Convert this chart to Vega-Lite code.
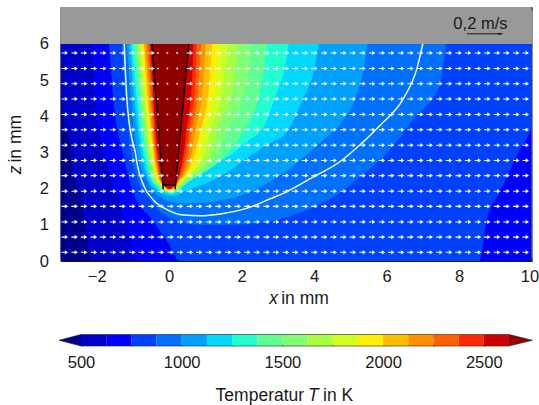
{"$schema":"https://vega.github.io/schema/vega-lite/v6.json","background":"white","padding":{"left":6.5,"top":6,"right":2,"bottom":2},"bounds":"flush","spacing":73.5,"config":{"view":{"stroke":null},"font":"Liberation Sans","text":{"font":"Liberation Sans"},"axis":{"labelFont":"Liberation Sans","labelFontSize":16.5,"labelColor":"#1a1a1a","domainColor":"#1a1a1a","tickColor":"#1a1a1a","grid":false,"title":null,"domainWidth":1,"tickWidth":1,"labelFlush":false,"labelOverlap":false}},"vconcat":[{"width":471,"height":254,"encoding":{"x":{"field":"x","type":"quantitative","scale":{"domain":[-3,10],"nice":false,"zero":false},"axis":null},"y":{"field":"z","type":"quantitative","scale":{"domain":[0,7.02],"nice":false,"zero":false},"axis":null}},"resolve":{"axis":{"x":"independent","y":"independent"}},"layer":[{"data":{"name":"bands"},"mark":{"type":"area","clip":true,"interpolate":"monotone"},"encoding":{"y":{"field":"z","type":"quantitative","stack":null,"axis":{"values":[0,1,2,3,4,5,6],"tickSize":-3,"labelPadding":15,"format":"d"}},"x":{"field":"x","type":"quantitative","axis":{"values":[-2,0,2,4,6,8,10],"tickSize":-3,"labelPadding":10,"format":"d","labelOffset":{"condition":{"test":"datum.value==10","value":-2},"value":0}}},"y2":{"datum":6},"detail":{"field":"T"},"color":{"field":"T","type":"ordinal","legend":null,"scale":{"domain":[375,500,625,750,875,1000,1125,1250,1375,1500,1625,1750,1875,2000,2125,2250,2375,2500,2625],"range":["#00008f","#0000c8","#0000ff","#0040ff","#0070ff","#00a0ff","#00d8ff","#20ffd0","#5fff90","#80ff70","#a8ff40","#d0ff20","#ffef00","#ffbf00","#ff8f00","#ff6000","#ff2800","#d00000","#8f0000"]}}}},{"data":{"values":[{"x":-3,"z":6},{"x":10,"z":6}]},"mark":{"type":"area","color":"#999999"},"encoding":{"y":{"field":"z","type":"quantitative","stack":null,"axis":{"orient":"right","values":[0,1,2,3,4,5,6],"tickSize":-3,"labels":false}},"x":{"field":"x","type":"quantitative","axis":{"orient":"top","values":[-2,0,2,4,6,8,10],"tickSize":-3,"labels":false}},"y2":{"datum":7.02}}},{"data":{"name":"melt"},"mark":{"type":"line","color":"white","strokeWidth":1.4,"interpolate":"monotone"}},{"data":{"name":"hole"},"mark":{"type":"line","color":"black","strokeWidth":1.4},"encoding":{"detail":{"field":"s"}}},{"data":{"name":"arrows"},"mark":{"type":"point","shape":"M-1,-0.16L0,-0.16L0,-0.65L1,0L0,0.65L0,0.16L-1,0.16Z","filled":true,"color":"white","size":42,"opacity":1,"strokeWidth":0}},{"data":{"name":"dots"},"mark":{"type":"point","shape":"circle","filled":true,"color":"white","size":4,"opacity":0.85,"strokeWidth":0}},{"data":{"values":[{"x":8.22,"x2":9.2,"z":6.28}]},"mark":{"type":"rule","color":"#1a1a1a","strokeWidth":1.2},"encoding":{"x2":{"field":"x2"}}},{"data":{"values":[{"x":9.15,"z":6.28}]},"mark":{"type":"point","shape":"M-1,-0.5L1,0L-1,0.5Z","filled":true,"color":"#1a1a1a","size":20,"opacity":1,"strokeWidth":0}},{"data":{"values":[{"x":8.59,"z":6.54,"t":"0,2 m/s"}]},"mark":{"type":"text","fontSize":16.5,"color":"#1a1a1a"},"encoding":{"text":{"field":"t"}}},{"data":{"values":[{"x":2.76,"z":-1.06,"t":"x"}]},"mark":{"type":"text","fontSize":17.5,"align":"left","fontStyle":"italic","color":"#1a1a1a"},"encoding":{"text":{"field":"t"}}},{"data":{"values":[{"x":3.09,"z":-1.06,"t":"in mm"}]},"mark":{"type":"text","fontSize":17.5,"align":"left","color":"#1a1a1a"},"encoding":{"text":{"field":"t"}}},{"data":{"values":[{"x":-4.23,"z":2.4,"t":"z"}]},"mark":{"type":"text","fontSize":17.5,"align":"left","angle":270,"fontStyle":"italic","color":"#1a1a1a"},"encoding":{"text":{"field":"t"}}},{"data":{"values":[{"x":-4.23,"z":2.72,"t":"in mm"}]},"mark":{"type":"text","fontSize":17.5,"align":"left","angle":270,"color":"#1a1a1a"},"encoding":{"text":{"field":"t"}}}]},{"width":471,"height":11.5,"encoding":{"x":{"field":"T","type":"quantitative","scale":{"domain":[398.2,2737],"nice":false,"zero":false},"axis":null},"y":{"field":"v","type":"quantitative","scale":{"domain":[0,1],"nice":false},"axis":null}},"resolve":{"axis":{"x":"independent"}},"layer":[{"data":{"values":[{"T":500,"T1":625,"T0":500,"v":0,"h":1},{"T":625,"T1":750,"T0":625,"v":0,"h":1},{"T":750,"T1":875,"T0":750,"v":0,"h":1},{"T":875,"T1":1000,"T0":875,"v":0,"h":1},{"T":1000,"T1":1125,"T0":1000,"v":0,"h":1},{"T":1125,"T1":1250,"T0":1125,"v":0,"h":1},{"T":1250,"T1":1375,"T0":1250,"v":0,"h":1},{"T":1375,"T1":1500,"T0":1375,"v":0,"h":1},{"T":1500,"T1":1625,"T0":1500,"v":0,"h":1},{"T":1625,"T1":1750,"T0":1625,"v":0,"h":1},{"T":1750,"T1":1875,"T0":1750,"v":0,"h":1},{"T":1875,"T1":2000,"T0":1875,"v":0,"h":1},{"T":2000,"T1":2125,"T0":2000,"v":0,"h":1},{"T":2125,"T1":2250,"T0":2125,"v":0,"h":1},{"T":2250,"T1":2375,"T0":2250,"v":0,"h":1},{"T":2375,"T1":2500,"T0":2375,"v":0,"h":1},{"T":2500,"T1":2625,"T0":2500,"v":0,"h":1}]},"mark":{"type":"rect"},"encoding":{"x":{"field":"T","type":"quantitative","axis":{"values":[500,750,1000,1250,1500,1750,2000,2250,2500],"tickSize":-3,"domain":false,"labelPadding":11,"format":"d","labelExpr":"datum.value%500==0?datum.label:''"}},"x2":{"field":"T1"},"y":{"field":"v","type":"quantitative"},"y2":{"field":"h"},"color":{"field":"T0","type":"ordinal","legend":null,"scale":{"domain":[375,500,625,750,875,1000,1125,1250,1375,1500,1625,1750,1875,2000,2125,2250,2375,2500,2625],"range":["#00008f","#0000c8","#0000ff","#0040ff","#0070ff","#00a0ff","#00d8ff","#20ffd0","#5fff90","#80ff70","#a8ff40","#d0ff20","#ffef00","#ffbf00","#ff8f00","#ff6000","#ff2800","#d00000","#8f0000"]}}}},{"data":{"values":[{"T":390.8,"v":0.5,"h":0.5,"T0":375},{"T":500,"v":0,"h":1,"T0":375},{"T":2625,"v":0,"h":1,"T0":2625},{"T":2742,"v":0.5,"h":0.5,"T0":2625}]},"mark":{"type":"area"},"encoding":{"y":{"field":"v","type":"quantitative","stack":null},"y2":{"field":"h"},"detail":{"field":"T0"},"color":{"field":"T0","type":"ordinal","legend":null}}},{"data":{"values":[{"T":390.8,"v":0.5,"i":1},{"T":500,"v":1,"i":2},{"T":2625,"v":1,"i":3},{"T":2742,"v":0.5,"i":4},{"T":2625,"v":0,"i":5},{"T":500,"v":0,"i":6},{"T":390.8,"v":0.5,"i":7}]},"mark":{"type":"line","color":"#222222","strokeWidth":0.6},"encoding":{"order":{"field":"i"},"x":{"field":"T","type":"quantitative","axis":{"orient":"top","values":[500,750,1000,1250,1500,1750,2000,2250,2500],"tickSize":-3,"domain":false,"labels":false}}}},{"data":{"values":[{"T":1608,"v":-4.35,"t":"Temperatur"}]},"mark":{"type":"text","fontSize":17.5,"align":"right","color":"#1a1a1a"},"encoding":{"text":{"field":"t"}}},{"data":{"values":[{"T":1627,"v":-4.35,"t":"T"}]},"mark":{"type":"text","fontSize":17.5,"align":"left","fontStyle":"italic","color":"#1a1a1a"},"encoding":{"text":{"field":"t"}}},{"data":{"values":[{"T":1702,"v":-4.35,"t":"in K"}]},"mark":{"type":"text","fontSize":17.5,"align":"left","color":"#1a1a1a"},"encoding":{"text":{"field":"t"}}}]}],"datasets":{"dots":[{"x":-0.05,"z":2.36},{"x":0.22,"z":2.36},{"x":-0.05,"z":2.78},{"x":0.22,"z":2.78},{"x":-0.31,"z":3.2},{"x":-0.05,"z":3.2},{"x":0.22,"z":3.2},{"x":-0.31,"z":3.63},{"x":-0.05,"z":3.63},{"x":0.22,"z":3.63},{"x":-0.31,"z":4.05},{"x":-0.05,"z":4.05},{"x":0.22,"z":4.05},{"x":-0.31,"z":4.48},{"x":-0.05,"z":4.48},{"x":0.22,"z":4.48},{"x":-0.31,"z":4.9},{"x":-0.05,"z":4.9},{"x":0.22,"z":4.9},{"x":-0.31,"z":5.32},{"x":-0.05,"z":5.32},{"x":0.22,"z":5.32},{"x":-0.31,"z":5.75},{"x":-0.05,"z":5.75},{"x":0.22,"z":5.75}],"arrows":[{"x":-2.88,"z":0.24},{"x":-2.61,"z":0.24},{"x":-2.35,"z":0.24},{"x":-2.08,"z":0.24},{"x":-1.82,"z":0.24},{"x":-1.55,"z":0.24},{"x":-1.29,"z":0.24},{"x":-1.02,"z":0.24},{"x":-0.76,"z":0.24},{"x":-0.49,"z":0.24},{"x":-0.23,"z":0.24},{"x":0.04,"z":0.24},{"x":0.3,"z":0.24},{"x":0.57,"z":0.24},{"x":0.83,"z":0.24},{"x":1.1,"z":0.24},{"x":1.36,"z":0.24},{"x":1.63,"z":0.24},{"x":1.89,"z":0.24},{"x":2.16,"z":0.24},{"x":2.42,"z":0.24},{"x":2.69,"z":0.24},{"x":2.95,"z":0.24},{"x":3.22,"z":0.24},{"x":3.48,"z":0.24},{"x":3.75,"z":0.24},{"x":4.01,"z":0.24},{"x":4.28,"z":0.24},{"x":4.54,"z":0.24},{"x":4.81,"z":0.24},{"x":5.07,"z":0.24},{"x":5.34,"z":0.24},{"x":5.6,"z":0.24},{"x":5.87,"z":0.24},{"x":6.13,"z":0.24},{"x":6.4,"z":0.24},{"x":6.66,"z":0.24},{"x":6.93,"z":0.24},{"x":7.19,"z":0.24},{"x":7.46,"z":0.24},{"x":7.72,"z":0.24},{"x":7.99,"z":0.24},{"x":8.25,"z":0.24},{"x":8.52,"z":0.24},{"x":8.78,"z":0.24},{"x":9.05,"z":0.24},{"x":9.31,"z":0.24},{"x":9.58,"z":0.24},{"x":9.84,"z":0.24},{"x":-2.88,"z":0.66},{"x":-2.61,"z":0.66},{"x":-2.35,"z":0.66},{"x":-2.08,"z":0.66},{"x":-1.82,"z":0.66},{"x":-1.55,"z":0.66},{"x":-1.29,"z":0.66},{"x":-1.02,"z":0.66},{"x":-0.76,"z":0.66},{"x":-0.49,"z":0.66},{"x":-0.23,"z":0.66},{"x":0.04,"z":0.66},{"x":0.3,"z":0.66},{"x":0.57,"z":0.66},{"x":0.83,"z":0.66},{"x":1.1,"z":0.66},{"x":1.36,"z":0.66},{"x":1.63,"z":0.66},{"x":1.89,"z":0.66},{"x":2.16,"z":0.66},{"x":2.42,"z":0.66},{"x":2.69,"z":0.66},{"x":2.95,"z":0.66},{"x":3.22,"z":0.66},{"x":3.48,"z":0.66},{"x":3.75,"z":0.66},{"x":4.01,"z":0.66},{"x":4.28,"z":0.66},{"x":4.54,"z":0.66},{"x":4.81,"z":0.66},{"x":5.07,"z":0.66},{"x":5.34,"z":0.66},{"x":5.6,"z":0.66},{"x":5.87,"z":0.66},{"x":6.13,"z":0.66},{"x":6.4,"z":0.66},{"x":6.66,"z":0.66},{"x":6.93,"z":0.66},{"x":7.19,"z":0.66},{"x":7.46,"z":0.66},{"x":7.72,"z":0.66},{"x":7.99,"z":0.66},{"x":8.25,"z":0.66},{"x":8.52,"z":0.66},{"x":8.78,"z":0.66},{"x":9.05,"z":0.66},{"x":9.31,"z":0.66},{"x":9.58,"z":0.66},{"x":9.84,"z":0.66},{"x":-2.88,"z":1.08},{"x":-2.61,"z":1.08},{"x":-2.35,"z":1.08},{"x":-2.08,"z":1.08},{"x":-1.82,"z":1.08},{"x":-1.55,"z":1.08},{"x":-1.29,"z":1.08},{"x":-1.02,"z":1.08},{"x":-0.76,"z":1.08},{"x":-0.49,"z":1.08},{"x":-0.23,"z":1.08},{"x":0.04,"z":1.08},{"x":0.3,"z":1.08},{"x":0.57,"z":1.08},{"x":0.83,"z":1.08},{"x":1.1,"z":1.08},{"x":1.36,"z":1.08},{"x":1.63,"z":1.08},{"x":1.89,"z":1.08},{"x":2.16,"z":1.08},{"x":2.42,"z":1.08},{"x":2.69,"z":1.08},{"x":2.95,"z":1.08},{"x":3.22,"z":1.08},{"x":3.48,"z":1.08},{"x":3.75,"z":1.08},{"x":4.01,"z":1.08},{"x":4.28,"z":1.08},{"x":4.54,"z":1.08},{"x":4.81,"z":1.08},{"x":5.07,"z":1.08},{"x":5.34,"z":1.08},{"x":5.6,"z":1.08},{"x":5.87,"z":1.08},{"x":6.13,"z":1.08},{"x":6.4,"z":1.08},{"x":6.66,"z":1.08},{"x":6.93,"z":1.08},{"x":7.19,"z":1.08},{"x":7.46,"z":1.08},{"x":7.72,"z":1.08},{"x":7.99,"z":1.08},{"x":8.25,"z":1.08},{"x":8.52,"z":1.08},{"x":8.78,"z":1.08},{"x":9.05,"z":1.08},{"x":9.31,"z":1.08},{"x":9.58,"z":1.08},{"x":9.84,"z":1.08},{"x":-2.88,"z":1.51},{"x":-2.61,"z":1.51},{"x":-2.35,"z":1.51},{"x":-2.08,"z":1.51},{"x":-1.82,"z":1.51},{"x":-1.55,"z":1.51},{"x":-1.29,"z":1.51},{"x":-1.02,"z":1.51},{"x":-0.76,"z":1.51},{"x":-0.49,"z":1.51},{"x":-0.23,"z":1.51},{"x":0.04,"z":1.51},{"x":0.3,"z":1.51},{"x":0.57,"z":1.51},{"x":0.83,"z":1.51},{"x":1.1,"z":1.51},{"x":1.36,"z":1.51},{"x":1.63,"z":1.51},{"x":1.89,"z":1.51},{"x":2.16,"z":1.51},{"x":2.42,"z":1.51},{"x":2.69,"z":1.51},{"x":2.95,"z":1.51},{"x":3.22,"z":1.51},{"x":3.48,"z":1.51},{"x":3.75,"z":1.51},{"x":4.01,"z":1.51},{"x":4.28,"z":1.51},{"x":4.54,"z":1.51},{"x":4.81,"z":1.51},{"x":5.07,"z":1.51},{"x":5.34,"z":1.51},{"x":5.6,"z":1.51},{"x":5.87,"z":1.51},{"x":6.13,"z":1.51},{"x":6.4,"z":1.51},{"x":6.66,"z":1.51},{"x":6.93,"z":1.51},{"x":7.19,"z":1.51},{"x":7.46,"z":1.51},{"x":7.72,"z":1.51},{"x":7.99,"z":1.51},{"x":8.25,"z":1.51},{"x":8.52,"z":1.51},{"x":8.78,"z":1.51},{"x":9.05,"z":1.51},{"x":9.31,"z":1.51},{"x":9.58,"z":1.51},{"x":9.84,"z":1.51},{"x":-2.88,"z":1.93},{"x":-2.61,"z":1.93},{"x":-2.35,"z":1.93},{"x":-2.08,"z":1.93},{"x":-1.82,"z":1.93},{"x":-1.55,"z":1.93},{"x":-1.29,"z":1.93},{"x":-1.02,"z":1.93},{"x":-0.76,"z":1.93},{"x":-0.49,"z":1.93},{"x":-0.23,"z":1.93},{"x":0.04,"z":1.93},{"x":0.3,"z":1.93},{"x":0.57,"z":1.93},{"x":0.83,"z":1.93},{"x":1.1,"z":1.93},{"x":1.36,"z":1.93},{"x":1.63,"z":1.93},{"x":1.89,"z":1.93},{"x":2.16,"z":1.93},{"x":2.42,"z":1.93},{"x":2.69,"z":1.93},{"x":2.95,"z":1.93},{"x":3.22,"z":1.93},{"x":3.48,"z":1.93},{"x":3.75,"z":1.93},{"x":4.01,"z":1.93},{"x":4.28,"z":1.93},{"x":4.54,"z":1.93},{"x":4.81,"z":1.93},{"x":5.07,"z":1.93},{"x":5.34,"z":1.93},{"x":5.6,"z":1.93},{"x":5.87,"z":1.93},{"x":6.13,"z":1.93},{"x":6.4,"z":1.93},{"x":6.66,"z":1.93},{"x":6.93,"z":1.93},{"x":7.19,"z":1.93},{"x":7.46,"z":1.93},{"x":7.72,"z":1.93},{"x":7.99,"z":1.93},{"x":8.25,"z":1.93},{"x":8.52,"z":1.93},{"x":8.78,"z":1.93},{"x":9.05,"z":1.93},{"x":9.31,"z":1.93},{"x":9.58,"z":1.93},{"x":9.84,"z":1.93},{"x":-2.88,"z":2.36},{"x":-2.61,"z":2.36},{"x":-2.35,"z":2.36},{"x":-2.08,"z":2.36},{"x":-1.82,"z":2.36},{"x":-1.55,"z":2.36},{"x":-1.29,"z":2.36},{"x":-1.02,"z":2.36},{"x":-0.76,"z":2.36},{"x":-0.49,"z":2.36},{"x":-0.23,"z":2.36},{"x":0.57,"z":2.36},{"x":0.83,"z":2.36},{"x":1.1,"z":2.36},{"x":1.36,"z":2.36},{"x":1.63,"z":2.36},{"x":1.89,"z":2.36},{"x":2.16,"z":2.36},{"x":2.42,"z":2.36},{"x":2.69,"z":2.36},{"x":2.95,"z":2.36},{"x":3.22,"z":2.36},{"x":3.48,"z":2.36},{"x":3.75,"z":2.36},{"x":4.01,"z":2.36},{"x":4.28,"z":2.36},{"x":4.54,"z":2.36},{"x":4.81,"z":2.36},{"x":5.07,"z":2.36},{"x":5.34,"z":2.36},{"x":5.6,"z":2.36},{"x":5.87,"z":2.36},{"x":6.13,"z":2.36},{"x":6.4,"z":2.36},{"x":6.66,"z":2.36},{"x":6.93,"z":2.36},{"x":7.19,"z":2.36},{"x":7.46,"z":2.36},{"x":7.72,"z":2.36},{"x":7.99,"z":2.36},{"x":8.25,"z":2.36},{"x":8.52,"z":2.36},{"x":8.78,"z":2.36},{"x":9.05,"z":2.36},{"x":9.31,"z":2.36},{"x":9.58,"z":2.36},{"x":9.84,"z":2.36},{"x":-2.88,"z":2.78},{"x":-2.61,"z":2.78},{"x":-2.35,"z":2.78},{"x":-2.08,"z":2.78},{"x":-1.82,"z":2.78},{"x":-1.55,"z":2.78},{"x":-1.29,"z":2.78},{"x":-1.02,"z":2.78},{"x":-0.76,"z":2.78},{"x":-0.49,"z":2.78},{"x":-0.23,"z":2.78},{"x":0.57,"z":2.78},{"x":0.83,"z":2.78},{"x":1.1,"z":2.78},{"x":1.36,"z":2.78},{"x":1.63,"z":2.78},{"x":1.89,"z":2.78},{"x":2.16,"z":2.78},{"x":2.42,"z":2.78},{"x":2.69,"z":2.78},{"x":2.95,"z":2.78},{"x":3.22,"z":2.78},{"x":3.48,"z":2.78},{"x":3.75,"z":2.78},{"x":4.01,"z":2.78},{"x":4.28,"z":2.78},{"x":4.54,"z":2.78},{"x":4.81,"z":2.78},{"x":5.07,"z":2.78},{"x":5.34,"z":2.78},{"x":5.6,"z":2.78},{"x":5.87,"z":2.78},{"x":6.13,"z":2.78},{"x":6.4,"z":2.78},{"x":6.66,"z":2.78},{"x":6.93,"z":2.78},{"x":7.19,"z":2.78},{"x":7.46,"z":2.78},{"x":7.72,"z":2.78},{"x":7.99,"z":2.78},{"x":8.25,"z":2.78},{"x":8.52,"z":2.78},{"x":8.78,"z":2.78},{"x":9.05,"z":2.78},{"x":9.31,"z":2.78},{"x":9.58,"z":2.78},{"x":9.84,"z":2.78},{"x":-2.88,"z":3.2},{"x":-2.61,"z":3.2},{"x":-2.35,"z":3.2},{"x":-2.08,"z":3.2},{"x":-1.82,"z":3.2},{"x":-1.55,"z":3.2},{"x":-1.29,"z":3.2},{"x":-1.02,"z":3.2},{"x":-0.76,"z":3.2},{"x":-0.49,"z":3.2},{"x":0.57,"z":3.2},{"x":0.83,"z":3.2},{"x":1.1,"z":3.2},{"x":1.36,"z":3.2},{"x":1.63,"z":3.2},{"x":1.89,"z":3.2},{"x":2.16,"z":3.2},{"x":2.42,"z":3.2},{"x":2.69,"z":3.2},{"x":2.95,"z":3.2},{"x":3.22,"z":3.2},{"x":3.48,"z":3.2},{"x":3.75,"z":3.2},{"x":4.01,"z":3.2},{"x":4.28,"z":3.2},{"x":4.54,"z":3.2},{"x":4.81,"z":3.2},{"x":5.07,"z":3.2},{"x":5.34,"z":3.2},{"x":5.6,"z":3.2},{"x":5.87,"z":3.2},{"x":6.13,"z":3.2},{"x":6.4,"z":3.2},{"x":6.66,"z":3.2},{"x":6.93,"z":3.2},{"x":7.19,"z":3.2},{"x":7.46,"z":3.2},{"x":7.72,"z":3.2},{"x":7.99,"z":3.2},{"x":8.25,"z":3.2},{"x":8.52,"z":3.2},{"x":8.78,"z":3.2},{"x":9.05,"z":3.2},{"x":9.31,"z":3.2},{"x":9.58,"z":3.2},{"x":9.84,"z":3.2},{"x":-2.88,"z":3.63},{"x":-2.61,"z":3.63},{"x":-2.35,"z":3.63},{"x":-2.08,"z":3.63},{"x":-1.82,"z":3.63},{"x":-1.55,"z":3.63},{"x":-1.29,"z":3.63},{"x":-1.02,"z":3.63},{"x":-0.76,"z":3.63},{"x":-0.49,"z":3.63},{"x":0.57,"z":3.63},{"x":0.83,"z":3.63},{"x":1.1,"z":3.63},{"x":1.36,"z":3.63},{"x":1.63,"z":3.63},{"x":1.89,"z":3.63},{"x":2.16,"z":3.63},{"x":2.42,"z":3.63},{"x":2.69,"z":3.63},{"x":2.95,"z":3.63},{"x":3.22,"z":3.63},{"x":3.48,"z":3.63},{"x":3.75,"z":3.63},{"x":4.01,"z":3.63},{"x":4.28,"z":3.63},{"x":4.54,"z":3.63},{"x":4.81,"z":3.63},{"x":5.07,"z":3.63},{"x":5.34,"z":3.63},{"x":5.6,"z":3.63},{"x":5.87,"z":3.63},{"x":6.13,"z":3.63},{"x":6.4,"z":3.63},{"x":6.66,"z":3.63},{"x":6.93,"z":3.63},{"x":7.19,"z":3.63},{"x":7.46,"z":3.63},{"x":7.72,"z":3.63},{"x":7.99,"z":3.63},{"x":8.25,"z":3.63},{"x":8.52,"z":3.63},{"x":8.78,"z":3.63},{"x":9.05,"z":3.63},{"x":9.31,"z":3.63},{"x":9.58,"z":3.63},{"x":9.84,"z":3.63},{"x":-2.88,"z":4.05},{"x":-2.61,"z":4.05},{"x":-2.35,"z":4.05},{"x":-2.08,"z":4.05},{"x":-1.82,"z":4.05},{"x":-1.55,"z":4.05},{"x":-1.29,"z":4.05},{"x":-1.02,"z":4.05},{"x":-0.76,"z":4.05},{"x":-0.49,"z":4.05},{"x":0.57,"z":4.05},{"x":0.83,"z":4.05},{"x":1.1,"z":4.05},{"x":1.36,"z":4.05},{"x":1.63,"z":4.05},{"x":1.89,"z":4.05},{"x":2.16,"z":4.05},{"x":2.42,"z":4.05},{"x":2.69,"z":4.05},{"x":2.95,"z":4.05},{"x":3.22,"z":4.05},{"x":3.48,"z":4.05},{"x":3.75,"z":4.05},{"x":4.01,"z":4.05},{"x":4.28,"z":4.05},{"x":4.54,"z":4.05},{"x":4.81,"z":4.05},{"x":5.07,"z":4.05},{"x":5.34,"z":4.05},{"x":5.6,"z":4.05},{"x":5.87,"z":4.05},{"x":6.13,"z":4.05},{"x":6.4,"z":4.05},{"x":6.66,"z":4.05},{"x":6.93,"z":4.05},{"x":7.19,"z":4.05},{"x":7.46,"z":4.05},{"x":7.72,"z":4.05},{"x":7.99,"z":4.05},{"x":8.25,"z":4.05},{"x":8.52,"z":4.05},{"x":8.78,"z":4.05},{"x":9.05,"z":4.05},{"x":9.31,"z":4.05},{"x":9.58,"z":4.05},{"x":9.84,"z":4.05},{"x":-2.88,"z":4.48},{"x":-2.61,"z":4.48},{"x":-2.35,"z":4.48},{"x":-2.08,"z":4.48},{"x":-1.82,"z":4.48},{"x":-1.55,"z":4.48},{"x":-1.29,"z":4.48},{"x":-1.02,"z":4.48},{"x":-0.76,"z":4.48},{"x":-0.49,"z":4.48},{"x":0.57,"z":4.48},{"x":0.83,"z":4.48},{"x":1.1,"z":4.48},{"x":1.36,"z":4.48},{"x":1.63,"z":4.48},{"x":1.89,"z":4.48},{"x":2.16,"z":4.48},{"x":2.42,"z":4.48},{"x":2.69,"z":4.48},{"x":2.95,"z":4.48},{"x":3.22,"z":4.48},{"x":3.48,"z":4.48},{"x":3.75,"z":4.48},{"x":4.01,"z":4.48},{"x":4.28,"z":4.48},{"x":4.54,"z":4.48},{"x":4.81,"z":4.48},{"x":5.07,"z":4.48},{"x":5.34,"z":4.48},{"x":5.6,"z":4.48},{"x":5.87,"z":4.48},{"x":6.13,"z":4.48},{"x":6.4,"z":4.48},{"x":6.66,"z":4.48},{"x":6.93,"z":4.48},{"x":7.19,"z":4.48},{"x":7.46,"z":4.48},{"x":7.72,"z":4.48},{"x":7.99,"z":4.48},{"x":8.25,"z":4.48},{"x":8.52,"z":4.48},{"x":8.78,"z":4.48},{"x":9.05,"z":4.48},{"x":9.31,"z":4.48},{"x":9.58,"z":4.48},{"x":9.84,"z":4.48},{"x":-2.88,"z":4.9},{"x":-2.61,"z":4.9},{"x":-2.35,"z":4.9},{"x":-2.08,"z":4.9},{"x":-1.82,"z":4.9},{"x":-1.55,"z":4.9},{"x":-1.29,"z":4.9},{"x":-1.02,"z":4.9},{"x":-0.76,"z":4.9},{"x":-0.49,"z":4.9},{"x":0.57,"z":4.9},{"x":0.83,"z":4.9},{"x":1.1,"z":4.9},{"x":1.36,"z":4.9},{"x":1.63,"z":4.9},{"x":1.89,"z":4.9},{"x":2.16,"z":4.9},{"x":2.42,"z":4.9},{"x":2.69,"z":4.9},{"x":2.95,"z":4.9},{"x":3.22,"z":4.9},{"x":3.48,"z":4.9},{"x":3.75,"z":4.9},{"x":4.01,"z":4.9},{"x":4.28,"z":4.9},{"x":4.54,"z":4.9},{"x":4.81,"z":4.9},{"x":5.07,"z":4.9},{"x":5.34,"z":4.9},{"x":5.6,"z":4.9},{"x":5.87,"z":4.9},{"x":6.13,"z":4.9},{"x":6.4,"z":4.9},{"x":6.66,"z":4.9},{"x":6.93,"z":4.9},{"x":7.19,"z":4.9},{"x":7.46,"z":4.9},{"x":7.72,"z":4.9},{"x":7.99,"z":4.9},{"x":8.25,"z":4.9},{"x":8.52,"z":4.9},{"x":8.78,"z":4.9},{"x":9.05,"z":4.9},{"x":9.31,"z":4.9},{"x":9.58,"z":4.9},{"x":9.84,"z":4.9},{"x":-2.88,"z":5.32},{"x":-2.61,"z":5.32},{"x":-2.35,"z":5.32},{"x":-2.08,"z":5.32},{"x":-1.82,"z":5.32},{"x":-1.55,"z":5.32},{"x":-1.29,"z":5.32},{"x":-1.02,"z":5.32},{"x":-0.76,"z":5.32},{"x":-0.49,"z":5.32},{"x":0.57,"z":5.32},{"x":0.83,"z":5.32},{"x":1.1,"z":5.32},{"x":1.36,"z":5.32},{"x":1.63,"z":5.32},{"x":1.89,"z":5.32},{"x":2.16,"z":5.32},{"x":2.42,"z":5.32},{"x":2.69,"z":5.32},{"x":2.95,"z":5.32},{"x":3.22,"z":5.32},{"x":3.48,"z":5.32},{"x":3.75,"z":5.32},{"x":4.01,"z":5.32},{"x":4.28,"z":5.32},{"x":4.54,"z":5.32},{"x":4.81,"z":5.32},{"x":5.07,"z":5.32},{"x":5.34,"z":5.32},{"x":5.6,"z":5.32},{"x":5.87,"z":5.32},{"x":6.13,"z":5.32},{"x":6.4,"z":5.32},{"x":6.66,"z":5.32},{"x":6.93,"z":5.32},{"x":7.19,"z":5.32},{"x":7.46,"z":5.32},{"x":7.72,"z":5.32},{"x":7.99,"z":5.32},{"x":8.25,"z":5.32},{"x":8.52,"z":5.32},{"x":8.78,"z":5.32},{"x":9.05,"z":5.32},{"x":9.31,"z":5.32},{"x":9.58,"z":5.32},{"x":9.84,"z":5.32},{"x":-2.88,"z":5.75},{"x":-2.61,"z":5.75},{"x":-2.35,"z":5.75},{"x":-2.08,"z":5.75},{"x":-1.82,"z":5.75},{"x":-1.55,"z":5.75},{"x":-1.29,"z":5.75},{"x":-1.02,"z":5.75},{"x":-0.76,"z":5.75},{"x":-0.49,"z":5.75},{"x":0.57,"z":5.75},{"x":0.83,"z":5.75},{"x":1.1,"z":5.75},{"x":1.36,"z":5.75},{"x":1.63,"z":5.75},{"x":1.89,"z":5.75},{"x":2.16,"z":5.75},{"x":2.42,"z":5.75},{"x":2.69,"z":5.75},{"x":2.95,"z":5.75},{"x":3.22,"z":5.75},{"x":3.48,"z":5.75},{"x":3.75,"z":5.75},{"x":4.01,"z":5.75},{"x":4.28,"z":5.75},{"x":4.54,"z":5.75},{"x":4.81,"z":5.75},{"x":5.07,"z":5.75},{"x":5.34,"z":5.75},{"x":5.6,"z":5.75},{"x":5.87,"z":5.75},{"x":6.13,"z":5.75},{"x":6.4,"z":5.75},{"x":6.66,"z":5.75},{"x":6.93,"z":5.75},{"x":7.19,"z":5.75},{"x":7.46,"z":5.75},{"x":7.72,"z":5.75},{"x":7.99,"z":5.75},{"x":8.25,"z":5.75},{"x":8.52,"z":5.75},{"x":8.78,"z":5.75},{"x":9.05,"z":5.75},{"x":9.31,"z":5.75},{"x":9.58,"z":5.75},{"x":9.84,"z":5.75}],"melt":[{"x":-1.24,"z":6},{"x":-1.17,"z":4.5},{"x":-0.99,"z":3.21},{"x":-0.94,"z":3.03},{"x":-0.88,"z":2.66},{"x":-0.71,"z":2.1},{"x":-0.43,"z":1.68},{"x":-0.06,"z":1.42},{"x":0.39,"z":1.27},{"x":0.86,"z":1.25},{"x":1.41,"z":1.3},{"x":2.15,"z":1.46},{"x":2.79,"z":1.72},{"x":3.25,"z":1.92},{"x":3.99,"z":2.33},{"x":4.72,"z":2.75},{"x":5.05,"z":3.02},{"x":5.83,"z":3.76},{"x":6.47,"z":4.5},{"x":6.84,"z":5.33},{"x":7,"z":6}],"hole":[{"s":"a","x":-0.48,"z":6},{"s":"a","x":-0.165,"z":1.98},{"s":"b","x":0.165,"z":1.98},{"s":"b","x":0.54,"z":6},{"s":"c","x":-0.17,"z":2.1},{"s":"c","x":0.17,"z":2.1}],"bands":[{"T":375,"x":-3,"z":0},{"T":375,"x":10,"z":0},{"T":500,"x":-3,"z":6},{"T":500,"x":-2.92,"z":4},{"T":500,"x":-2.73,"z":3.21},{"T":500,"x":-2.69,"z":2.77},{"T":500,"x":-2.41,"z":1.64},{"T":500,"x":-2.13,"z":0},{"T":500,"x":10,"z":0},{"T":625,"x":-2.13,"z":6},{"T":625,"x":-2,"z":4},{"T":625,"x":-1.86,"z":3.21},{"T":625,"x":-1.81,"z":3},{"T":625,"x":-1.49,"z":2},{"T":625,"x":-1.17,"z":1},{"T":625,"x":-0.89,"z":0},{"T":625,"x":10,"z":0},{"T":750,"x":-1.66,"z":6},{"T":750,"x":-1.49,"z":4},{"T":750,"x":-1.33,"z":3.21},{"T":750,"x":-1.03,"z":2},{"T":750,"x":-0.43,"z":1.09},{"T":750,"x":-0.06,"z":0.55},{"T":750,"x":0.3,"z":0},{"T":750,"x":8.56,"z":0},{"T":750,"x":8.76,"z":1.09},{"T":750,"x":9.14,"z":1.92},{"T":750,"x":9.65,"z":3.02},{"T":750,"x":9.92,"z":3.49},{"T":750,"x":10,"z":3.7},{"T":875,"x":-1.31,"z":6},{"T":875,"x":-1.2,"z":4.5},{"T":875,"x":-1.05,"z":3.02},{"T":875,"x":-0.85,"z":2.2},{"T":875,"x":-0.57,"z":1.74},{"T":875,"x":-0.25,"z":1.37},{"T":875,"x":0.21,"z":1.11},{"T":875,"x":0.86,"z":1},{"T":875,"x":1.59,"z":1},{"T":875,"x":2.79,"z":1.1},{"T":875,"x":3.71,"z":1.37},{"T":875,"x":4.63,"z":1.83},{"T":875,"x":5.55,"z":2.56},{"T":875,"x":5.97,"z":2.93},{"T":875,"x":6.2,"z":3.21},{"T":875,"x":6.43,"z":3.49},{"T":875,"x":6.84,"z":4.04},{"T":875,"x":7.21,"z":4.41},{"T":875,"x":7.49,"z":4.96},{"T":875,"x":7.64,"z":6},{"T":1000,"x":-1.17,"z":6},{"T":1000,"x":-1.05,"z":4.5},{"T":1000,"x":-0.89,"z":3},{"T":1000,"x":-0.6,"z":2.2},{"T":1000,"x":-0.3,"z":1.8},{"T":1000,"x":0.3,"z":1.6},{"T":1000,"x":0.86,"z":1.6},{"T":1000,"x":1.5,"z":1.69},{"T":1000,"x":2.15,"z":1.87},{"T":1000,"x":2.7,"z":2.15},{"T":1000,"x":3.34,"z":2.56},{"T":1000,"x":3.99,"z":3.12},{"T":1000,"x":4.31,"z":3.39},{"T":1000,"x":4.77,"z":3.85},{"T":1000,"x":5.14,"z":4.5},{"T":1000,"x":5.37,"z":5.33},{"T":1000,"x":5.47,"z":6},{"T":1125,"x":-1.09,"z":6},{"T":1125,"x":-0.96,"z":4.5},{"T":1125,"x":-0.78,"z":3},{"T":1125,"x":-0.6,"z":2.3},{"T":1125,"x":-0.35,"z":1.95},{"T":1125,"x":0.1,"z":1.8},{"T":1125,"x":0.49,"z":1.95},{"T":1125,"x":1.04,"z":2.15},{"T":1125,"x":1.6,"z":2.45},{"T":1125,"x":2.15,"z":2.84},{"T":1125,"x":2.7,"z":3.21},{"T":1125,"x":3.25,"z":3.58},{"T":1125,"x":3.7,"z":4.5},{"T":1125,"x":4,"z":5.3},{"T":1125,"x":4.12,"z":6},{"T":1250,"x":-1.03,"z":6},{"T":1250,"x":-0.9,"z":4.5},{"T":1250,"x":-0.71,"z":3},{"T":1250,"x":-0.52,"z":2.3},{"T":1250,"x":-0.3,"z":2},{"T":1250,"x":0.1,"z":1.86},{"T":1250,"x":0.4,"z":2.1},{"T":1250,"x":0.77,"z":2.38},{"T":1250,"x":1.22,"z":2.66},{"T":1250,"x":1.69,"z":2.93},{"T":1250,"x":2.15,"z":3.3},{"T":1250,"x":2.6,"z":3.7},{"T":1250,"x":2.95,"z":4.6},{"T":1250,"x":3.2,"z":5.4},{"T":1250,"x":3.3,"z":6},{"T":1375,"x":-0.97,"z":6},{"T":1375,"x":-0.64,"z":3},{"T":1375,"x":-0.45,"z":2.2},{"T":1375,"x":0.08,"z":1.88},{"T":1375,"x":0.55,"z":2.2},{"T":1375,"x":1.63,"z":3},{"T":1375,"x":2.05,"z":3.58},{"T":1375,"x":2.54,"z":4.8},{"T":1375,"x":2.7,"z":6},{"T":1500,"x":-0.91,"z":6},{"T":1500,"x":-0.6,"z":3},{"T":1500,"x":-0.4,"z":2.2},{"T":1500,"x":0.07,"z":1.9},{"T":1500,"x":0.47,"z":2.2},{"T":1500,"x":1.36,"z":3},{"T":1500,"x":1.6,"z":3.58},{"T":1500,"x":2.11,"z":4.8},{"T":1500,"x":2.28,"z":6},{"T":1625,"x":-0.86,"z":6},{"T":1625,"x":-0.55,"z":3},{"T":1625,"x":-0.36,"z":2.2},{"T":1625,"x":0.06,"z":1.92},{"T":1625,"x":0.41,"z":2.2},{"T":1625,"x":1.18,"z":3},{"T":1625,"x":1.32,"z":3.58},{"T":1625,"x":1.76,"z":4.8},{"T":1625,"x":1.9,"z":6},{"T":1750,"x":-0.81,"z":6},{"T":1750,"x":-0.52,"z":3},{"T":1750,"x":-0.32,"z":2.2},{"T":1750,"x":0.05,"z":1.94},{"T":1750,"x":0.36,"z":2.2},{"T":1750,"x":1,"z":3},{"T":1750,"x":1.13,"z":3.58},{"T":1750,"x":1.49,"z":4.8},{"T":1750,"x":1.61,"z":6},{"T":1875,"x":-0.76,"z":6},{"T":1875,"x":-0.48,"z":3},{"T":1875,"x":-0.29,"z":2.2},{"T":1875,"x":0.04,"z":1.95},{"T":1875,"x":0.32,"z":2.2},{"T":1875,"x":0.86,"z":3},{"T":1875,"x":0.95,"z":3.58},{"T":1875,"x":1.27,"z":4.8},{"T":1875,"x":1.38,"z":6},{"T":2000,"x":-0.71,"z":6},{"T":2000,"x":-0.44,"z":3},{"T":2000,"x":-0.26,"z":2.2},{"T":2000,"x":0.03,"z":1.96},{"T":2000,"x":0.29,"z":2.2},{"T":2000,"x":0.72,"z":3},{"T":2000,"x":0.86,"z":3.58},{"T":2000,"x":1.1,"z":4.8},{"T":2000,"x":1.18,"z":6},{"T":2125,"x":-0.66,"z":6},{"T":2125,"x":-0.41,"z":3},{"T":2125,"x":-0.24,"z":2.2},{"T":2125,"x":0.02,"z":1.97},{"T":2125,"x":0.26,"z":2.2},{"T":2125,"x":0.63,"z":3},{"T":2125,"x":0.72,"z":3.58},{"T":2125,"x":0.93,"z":4.8},{"T":2125,"x":1,"z":6},{"T":2250,"x":-0.61,"z":6},{"T":2250,"x":-0.38,"z":3},{"T":2250,"x":-0.22,"z":2.2},{"T":2250,"x":0.01,"z":1.98},{"T":2250,"x":0.24,"z":2.2},{"T":2250,"x":0.53,"z":3},{"T":2250,"x":0.62,"z":3.58},{"T":2250,"x":0.81,"z":4.8},{"T":2250,"x":0.88,"z":6},{"T":2375,"x":-0.56,"z":6},{"T":2375,"x":-0.35,"z":3},{"T":2375,"x":-0.2,"z":2.2},{"T":2375,"x":0,"z":1.99},{"T":2375,"x":0.22,"z":2.2},{"T":2375,"x":0.46,"z":3},{"T":2375,"x":0.55,"z":3.58},{"T":2375,"x":0.71,"z":4.8},{"T":2375,"x":0.76,"z":6},{"T":2500,"x":-0.52,"z":6},{"T":2500,"x":-0.32,"z":3},{"T":2500,"x":-0.18,"z":2.2},{"T":2500,"x":0,"z":2},{"T":2500,"x":0.2,"z":2.2},{"T":2500,"x":0.4,"z":3},{"T":2500,"x":0.47,"z":3.58},{"T":2500,"x":0.62,"z":4.8},{"T":2500,"x":0.67,"z":6},{"T":2625,"x":-0.48,"z":6},{"T":2625,"x":-0.25,"z":3},{"T":2625,"x":-0.17,"z":2.1},{"T":2625,"x":0.17,"z":2.1},{"T":2625,"x":0.255,"z":3},{"T":2625,"x":0.54,"z":6}]}}
